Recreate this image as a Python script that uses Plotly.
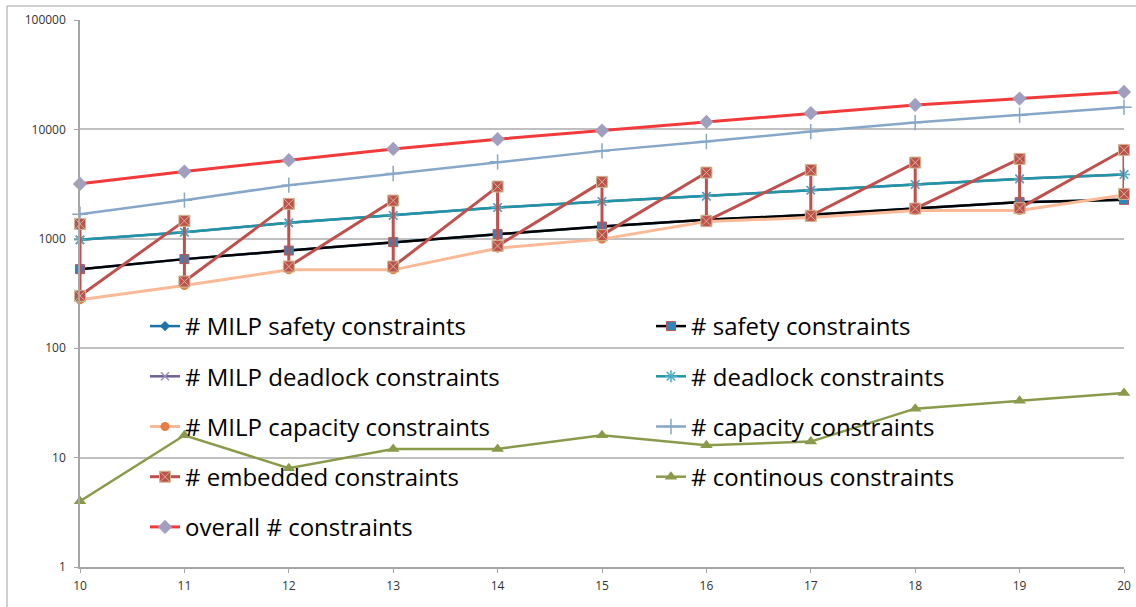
import plotly.graph_objects as go

# number of trains / problem size
sizes = [10, 11, 12, 13, 14, 15, 16, 17, 18, 19, 20]

milp_safety = [528, 652, 781, 932, 1103, 1294, 1490, 1655, 1878, 2162, 2270]
safety = [528, 652, 781, 932, 1103, 1294, 1490, 1655, 1878, 2162, 2270]
milp_deadlock = [978, 1150, 1399, 1631, 1930, 2190, 2453, 2783, 3131, 3530, 3865]
deadlock = [978, 1150, 1399, 1631, 1930, 2190, 2453, 2783, 3131, 3530, 3865]
milp_capacity = [277, 374, 520, 520, 821, 993, 1437, 1564, 1812, 1812, 2521]
capacity = [1680, 2255, 3092, 3947, 5049, 6363, 7736, 9550, 11540, 13480, 15950]
continuous = [4, 16, 8, 12, 12, 16, 13, 14, 28, 33, 39]
overall = [3177, 4116, 5231, 6633, 8138, 9750, 11710, 14060, 16750, 19120, 22010]

# embedded constraints: upper and lower count per size
embedded_high = [1369, 1459, 2086, 2236, 3002, 3314, 4031, 4266, 4974, 5376, 6496]
embedded_low = [301, 407, 558, 558, 862, 1080, 1450, 1620, 1890, 1905, 2575]

y_ticks = [1, 10, 100, 1000, 10000, 100000]

emb_x, emb_y = [], []
for s, hi, lo in zip(sizes, embedded_high, embedded_low):
    emb_x += [s, s]
    emb_y += [hi, lo]

fig = go.Figure()


def add(name, x, y, line_color, width, symbol, msize, mcolor, mline_color=None,
        mline_width=0, legend="legend"):
    fig.add_trace(go.Scatter(
        x=x, y=y, name=name, mode="lines+markers", legend=legend,
        legendgroup=name, cliponaxis=False,
        line=dict(color=line_color, width=width),
        marker=dict(symbol=symbol, size=msize, color=mcolor,
                    line=dict(color=mline_color or mcolor, width=mline_width)),
    ))


add("# MILP safety constraints", sizes, milp_safety, "#1F72A6", 2.5,
    "diamond", 8, "#1F72A6")
add("# safety constraints", sizes, safety, "#000000", 2.5,
    "square", 9, "#2E86C1", "#C0504D", 1, legend="legend2")
add("# MILP deadlock constraints", sizes, milp_deadlock, "#6E5F94", 2.5,
    "x-thin", 8, "#6E5F94", "#9A8FBF", 1.5)
add("# deadlock constraints", sizes, deadlock, "#1F96A8", 2.5,
    "asterisk-open", 10, "#4BACC6", "#4BACC6", 1.5, legend="legend2")
add("# MILP capacity constraints", sizes, milp_capacity, "#FAB997", 3,
    "circle", 9, "#E57F45")
add("# capacity constraints", sizes, capacity, "#87A7C9", 2.5,
    "cross-thin", 11, "#87A7C9", "#87A7C9", 1.5, legend="legend2")
add("# embedded constraints", emb_x, emb_y, "#C0504D", 3,
    "square-x", 11, "#C0504D", "#CDB98F", 1)
add("# continous constraints", sizes, continuous, "#8A9A4B", 2.5,
    "triangle-up", 11, "#8A9A4B", legend="legend2")
add("overall # constraints", sizes, overall, "#F23A3A", 3,
    "diamond", 11, "#A09FC0")

W, H = 1136, 607
L, R, T, B = 80, 12, 20, 40
pw, ph = W - L - R, H - T - B


def px_x(p):
    return (p - L) / pw


def px_y(p):
    return 1 - (p - T) / ph


legend_font = dict(family="Open Sans", size=24, color="#000000")
tick_font = dict(family="Open Sans", size=12, color="#333333")
fig.update_layout(
    width=W, height=H,
    margin=dict(l=L, r=R, t=T, b=B, autoexpand=False),
    paper_bgcolor="white", plot_bgcolor="white",
    showlegend=True,
    legend=dict(x=px_x(145), y=px_y(304), xanchor="left", yanchor="top",
                font=legend_font, tracegroupgap=16, bgcolor="rgba(0,0,0,0)",
                itemwidth=30),
    legend2=dict(x=px_x(651), y=px_y(304), xanchor="left", yanchor="top",
                 font=legend_font, tracegroupgap=16, bgcolor="rgba(0,0,0,0)",
                 itemwidth=30),
    xaxis=dict(range=[10, 20], tickvals=sizes, ticks="outside", ticklen=4,
               tickcolor="#A6A6A6", showgrid=False, showline=True,
               linecolor="#A6A6A6", linewidth=1.5, zeroline=False,
               automargin=False, ticklabelstandoff=3, tickfont=tick_font),
    yaxis=dict(type="log", range=[0, 5], tickvals=y_ticks,
               ticktext=[str(v) for v in y_ticks], ticks="outside", ticklen=4,
               tickcolor="#A6A6A6", showgrid=True, gridcolor="#C0C0C0",
               gridwidth=1.5, showline=True, linecolor="#A6A6A6", linewidth=1.5,
               zeroline=False, automargin=False, ticklabelstandoff=6,
               tickfont=tick_font),
    shapes=[dict(type="rect", xref="paper", yref="paper",
                 x0=px_x(7), x1=px_x(1145), y0=px_y(615), y1=px_y(6),
                 line=dict(color="#A0A0A0", width=1), layer="below")],
)

fig.write_html("out.html")
